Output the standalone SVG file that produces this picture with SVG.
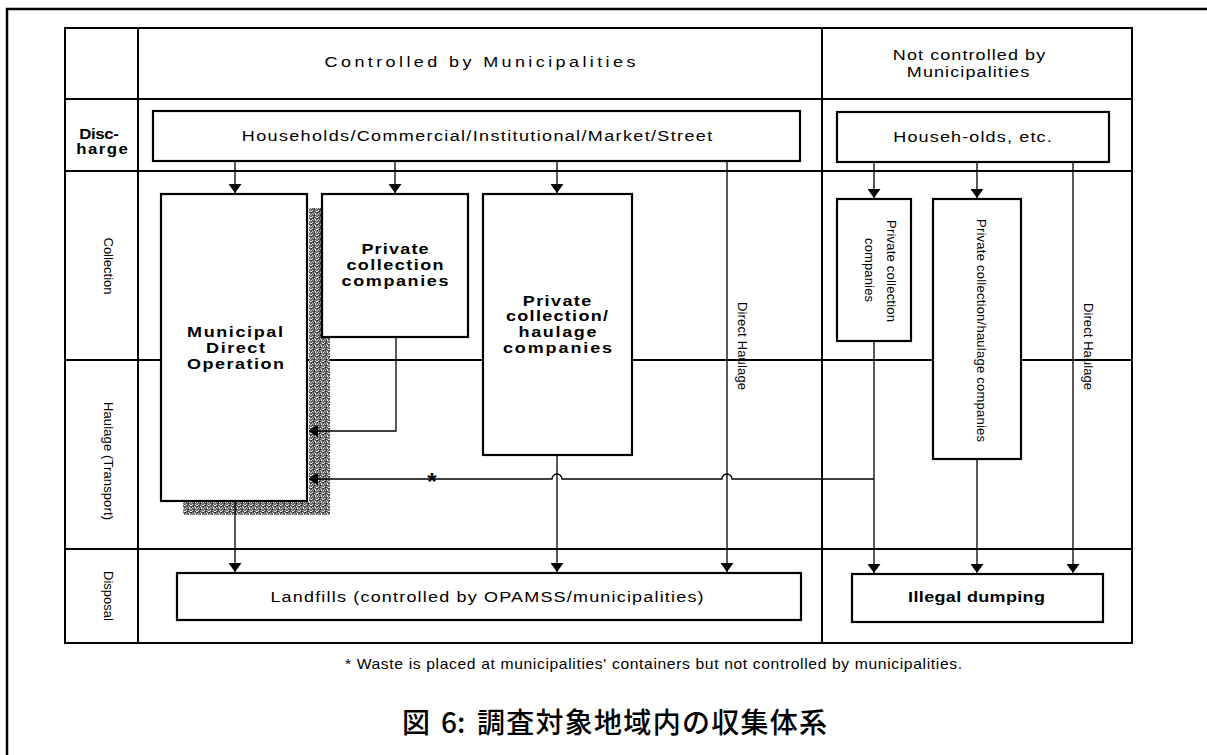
<svg xmlns="http://www.w3.org/2000/svg" width="1207" height="755" viewBox="0 0 1207 755">
<style>
.frame{fill:none;stroke:#000;stroke-width:2.5}
.grid{fill:none;stroke:#000;stroke-width:2}
.box{fill:#fff;stroke:#000;stroke-width:2.2}
.ln{fill:none;stroke:#000;stroke-width:1.3}
.arr{marker-end:url(#ah)}
text{font-family:"Liberation Sans",Arial,sans-serif;fill:#000}
.t{font-size:15px}
.tb{font-size:15px;font-weight:bold}
.tr{font-size:13px}
.ti{font-family:"Noto Sans CJK JP","Noto Sans CJK SC",sans-serif;font-size:28px;font-weight:500}
</style>
<defs>
<marker id="ah" viewBox="0 0 10 10" refX="10" refY="5" markerWidth="9" markerHeight="13" markerUnits="userSpaceOnUse" orient="auto" preserveAspectRatio="none">
<path d="M0,0 L10,5 L0,10 Z" fill="#000"/>
</marker>
<pattern id="speck" width="6" height="6" patternUnits="userSpaceOnUse">
<rect width="6" height="6" fill="#5e5e5e"/>
<rect x="0" y="0" width="1" height="1" fill="#e8e8e8"/>
<rect x="3" y="0" width="1" height="1" fill="#bdbdbd"/>
<rect x="1" y="1" width="1" height="1" fill="#2a2a2a"/>
<rect x="4" y="1" width="2" height="1" fill="#f0f0f0"/>
<rect x="2" y="2" width="1" height="1" fill="#d0d0d0"/>
<rect x="5" y="2" width="1" height="1" fill="#222"/>
<rect x="0" y="3" width="1" height="1" fill="#c8c8c8"/>
<rect x="3" y="3" width="1" height="2" fill="#eaeaea"/>
<rect x="1" y="4" width="1" height="1" fill="#9a9a9a"/>
<rect x="5" y="4" width="1" height="1" fill="#dcdcdc"/>
<rect x="2" y="5" width="1" height="1" fill="#1a1a1a"/>
<rect x="4" y="5" width="1" height="1" fill="#b0b0b0"/>
</pattern>
</defs>
<rect width="1207" height="755" fill="#fff"/>
<path class="frame" d="M7,760 V9 H1212"/>

<g id="table">
<rect class="grid" x="65" y="28" width="1067" height="615"/>
<path class="grid" d="M138,28 V643 M822,28 V643 M65,99 H1132 M65,171 H1132 M65,360 H1132 M65,549 H1132"/>
<text class="t" transform="translate(480,67) scale(1.2,1)" text-anchor="middle" textLength="259" lengthAdjust="spacing">Controlled by Municipalities</text>
<text class="t" transform="translate(969,60) scale(1.2,1)" text-anchor="middle" textLength="127" lengthAdjust="spacing">Not controlled by</text>
<text class="t" transform="translate(968,77) scale(1.2,1)" text-anchor="middle" textLength="102" lengthAdjust="spacing">Municipalities</text>
<text transform="translate(99,139) scale(1.2,1)" text-anchor="middle" font-size="14" font-weight="bold" textLength="33" lengthAdjust="spacing">Disc-</text>
<text transform="translate(102,154) scale(1.2,1)" text-anchor="middle" font-size="14" font-weight="bold" textLength="43" lengthAdjust="spacing">harge</text>
<text class="tr" transform="translate(104,266) rotate(90)" text-anchor="middle" textLength="57" lengthAdjust="spacing">Collection</text>
<text class="tr" transform="translate(104,461) rotate(90)" text-anchor="middle" textLength="118" lengthAdjust="spacing">Haulage (Transport)</text>
<text class="tr" transform="translate(104,596) rotate(90)" text-anchor="middle" textLength="50" lengthAdjust="spacing">Disposal</text>
</g>

<g id="shadow">
<path d="M309,208 H330 V515 H183 V502 H309 Z" fill="url(#speck)"/>
</g>

<g id="households-controlled">
<rect class="box" x="153" y="111" width="647" height="50"/>
<text class="t" transform="translate(477,141) scale(1.2,1)" text-anchor="middle" textLength="392" lengthAdjust="spacing">Households/Commercial/Institutional/Market/Street</text>
</g>

<g id="households-other">
<rect class="box" x="837" y="112" width="272" height="50"/>
<text class="t" transform="translate(972.5,142) scale(1.2,1)" text-anchor="middle" textLength="132" lengthAdjust="spacing">Househ-olds, etc.</text>
</g>

<g id="municipal">
<rect class="box" x="161" y="194" width="146" height="307"/>
<text class="tb" transform="translate(235,337) scale(1.2,1)" text-anchor="middle" textLength="80" lengthAdjust="spacing">Municipal</text>
<text class="tb" transform="translate(235.5,353) scale(1.2,1)" text-anchor="middle" textLength="49" lengthAdjust="spacing">Direct</text>
<text class="tb" transform="translate(235.5,369) scale(1.2,1)" text-anchor="middle" textLength="81" lengthAdjust="spacing">Operation</text>
</g>

<g id="private-collection">
<rect class="box" x="322" y="194" width="146" height="143"/>
<text class="tb" transform="translate(395,254) scale(1.2,1)" text-anchor="middle" textLength="56" lengthAdjust="spacing">Private</text>
<text class="tb" transform="translate(395,270) scale(1.2,1)" text-anchor="middle" textLength="81" lengthAdjust="spacing">collection</text>
<text class="tb" transform="translate(395,286) scale(1.2,1)" text-anchor="middle" textLength="89" lengthAdjust="spacing">companies</text>
</g>

<g id="private-haulage">
<rect class="box" x="483" y="194" width="149" height="261"/>
<text class="tb" transform="translate(557,306) scale(1.2,1)" text-anchor="middle" textLength="57" lengthAdjust="spacing">Private</text>
<text class="tb" transform="translate(557,321) scale(1.2,1)" text-anchor="middle" textLength="85" lengthAdjust="spacing">collection/</text>
<text class="tb" transform="translate(557.5,337) scale(1.2,1)" text-anchor="middle" textLength="65" lengthAdjust="spacing">haulage</text>
<text class="tb" transform="translate(557.5,353) scale(1.2,1)" text-anchor="middle" textLength="91" lengthAdjust="spacing">companies</text>
</g>

<g id="private-collection-other">
<rect class="box" x="837" y="199" width="74" height="142"/>
<text class="tr" transform="translate(887,271) rotate(90)" text-anchor="middle" textLength="102" lengthAdjust="spacing">Private collection</text>
<text class="tr" transform="translate(865,270) rotate(90)" text-anchor="middle" textLength="64" lengthAdjust="spacing">companies</text>
</g>

<g id="private-haulage-other">
<rect class="box" x="933" y="199" width="88" height="260"/>
<text class="tr" transform="translate(977,330.5) rotate(90)" text-anchor="middle" textLength="223" lengthAdjust="spacing">Private collection/haulage companies</text>
</g>

<g id="landfills">
<rect class="box" x="177" y="573" width="624" height="47"/>
<text class="t" transform="translate(487,602) scale(1.2,1)" text-anchor="middle" textLength="361" lengthAdjust="spacing">Landfills (controlled by OPAMSS/municipalities)</text>
</g>

<g id="illegal-dumping">
<rect class="box" x="852" y="574" width="251" height="48"/>
<text class="tb" transform="translate(976.5,602) scale(1.2,1)" text-anchor="middle" textLength="114" lengthAdjust="spacing">Illegal dumping</text>
</g>

<g id="connectors">
<path class="ln arr" d="M235,162 V193"/>
<path class="ln arr" d="M395,162 V193"/>
<path class="ln arr" d="M557,162 V193"/>
<path class="ln arr" d="M727,162 V572"/>
<path class="ln arr" d="M235,502 V572"/>
<path class="ln arr" d="M557,456 V572"/>
<path class="ln arr" d="M396,338 V431 H309"/>
<path class="ln arr" d="M874,479 H732 A5,5 0 0 0 722,479 H562 A5,5 0 0 0 552,479 H309"/>
<path class="ln arr" d="M874,163 V198"/>
<path class="ln arr" d="M977,163 V198"/>
<path class="ln arr" d="M874,342 V573"/>
<path class="ln arr" d="M977,460 V573"/>
<path class="ln arr" d="M1073,163 V573"/>
<text class="tr" transform="translate(738,346) rotate(90)" text-anchor="middle" textLength="88" lengthAdjust="spacing">Direct Haulage</text>
<text class="tr" transform="translate(1084,346.5) rotate(90)" text-anchor="middle" textLength="87" lengthAdjust="spacing">Direct Haulage</text>
<text x="432" y="490" text-anchor="middle" font-size="24" font-weight="bold">*</text>
</g>

<g id="notes">
<text transform="translate(653.5,669) scale(1.12,1)" text-anchor="middle" font-size="14" textLength="551" lengthAdjust="spacing">* Waste is placed at municipalities' containers but not controlled by municipalities.</text>
<text class="ti"><tspan x="402" y="733">図</tspan><tspan x="441" y="733">6:</tspan><tspan x="477" y="733" textLength="350" lengthAdjust="spacing">調査対象地域内の収集体系</tspan></text>
</g>
</svg>
